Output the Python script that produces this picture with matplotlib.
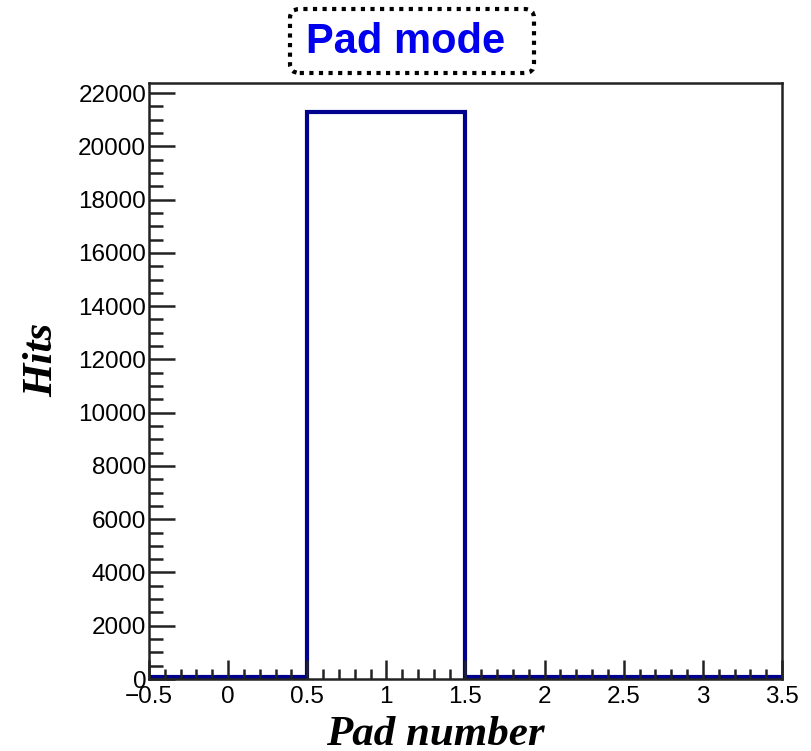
import numpy as np
import matplotlib
matplotlib.use('Agg')
import matplotlib.pyplot as plt
from matplotlib.patches import FancyBboxPatch
from matplotlib.ticker import MultipleLocator

# histogram contents
bin_edges = [-0.5, 0.5, 1.5, 2.5, 3.5]
hits = [90, 21300, 90, 90]
title = 'Pad mode'

fig = plt.figure(figsize=(8.12, 7.51), dpi=100)
ax = fig.add_axes([149/812, 72/751, 633/812, 596/751])

ax.stairs(hits, bin_edges, color='#00008f', linewidth=3, baseline=0)

ax.set_xlim(-0.5, 3.5)
ax.set_ylim(0, 22380)
ax.xaxis.set_minor_locator(MultipleLocator(0.1))
ax.yaxis.set_major_locator(MultipleLocator(2000))
ax.yaxis.set_minor_locator(MultipleLocator(500))
ax.set_xticks(np.arange(-0.5, 3.51, 0.5))
ax.set_xticklabels(['\u22120.5', '0', '0.5', '1', '1.5', '2', '2.5', '3', '3.5'])

for s in ax.spines.values():
    s.set_linewidth(1.8)
    s.set_color('#222222')

ax.tick_params(axis='both', which='both', direction='in', top=False, right=False,
               width=1.8, color='#222222')
ax.tick_params(axis='x', which='major', length=14, pad=5)
ax.tick_params(axis='x', which='minor', length=7)
ax.tick_params(axis='y', which='major', length=19, pad=2)
ax.tick_params(axis='y', which='minor', length=10)
for lab in ax.get_xticklabels() + ax.get_yticklabels():
    lab.set_fontfamily('Liberation Sans')
    lab.set_fontsize(17.5)

ax.set_xlabel('Pad number', fontfamily='Liberation Serif', fontweight='bold',
              fontstyle='italic', fontsize=31)
ax.xaxis.set_label_coords(0.452, -0.062)
ax.set_ylabel('Hits', fontfamily='Liberation Serif', fontweight='bold',
              fontstyle='italic', fontsize=31)
ax.yaxis.set_label_coords(-0.139, 0.535)

# title in a dotted rounded box
box = FancyBboxPatch((290/812, 1 - 73/751), 244/812, 64/751,
                     boxstyle='round,pad=0,rounding_size=0.012',
                     transform=fig.transFigure, facecolor='white',
                     edgecolor='black', linestyle=(0, (1, 1.3)), linewidth=3)
fig.patches.append(box)
fig.text(406/812, 1 - 42/751, title, color='#0000ee', fontfamily='Liberation Sans',
         fontweight='bold', fontsize=30, ha='center', va='center')

fig.savefig('out.png', dpi=100)
